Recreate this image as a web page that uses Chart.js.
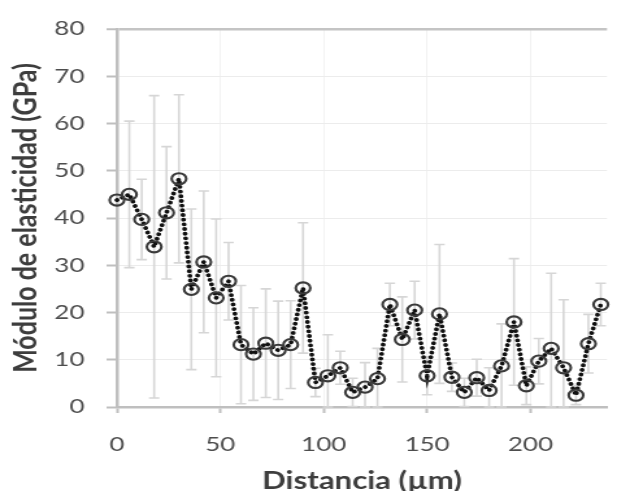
<!DOCTYPE html>
<html><head><meta charset="utf-8">
<script src="https://cdn.jsdelivr.net/npm/chart.js@4/dist/chart.umd.min.js"></script>
<style>
html,body{margin:0;padding:0;background:#fff;overflow:hidden;}
#wrap{width:475px;height:491px;transform:scaleX(1.29895);transform-origin:0 0;}
canvas{display:block;}
</style></head><body>
<div id="wrap"><canvas id="c" width="475" height="491"></canvas></div>
<script>
const distances = [0,6,12,18,24,30,36,42,48,54,60,66,72,78,84,90,96,102,108,114,120,126,132,138,144,150,156,162,168,174,180,186,192,198,204,210,216,222,228,234];
const modulus = [43.8,45.0,39.7,33.9,41.1,48.3,24.9,30.7,23.1,26.6,13.2,11.2,13.5,12.0,13.2,25.2,5.2,6.6,8.3,3.1,4.2,6.0,21.7,14.3,20.5,6.6,19.7,6.3,3.1,6.2,3.5,8.7,18.0,4.5,9.7,12.4,8.3,2.5,13.4,21.7];
const errors = [0,15.5,8.5,32,14,17.8,17,15,16.7,8.2,12.5,9.8,11.5,10.4,9.3,13.8,3,8.7,3.5,3,5.2,6.4,4.5,9,6.1,4,14.7,3,3,3.9,4.8,8.9,13.4,4,4.8,15.9,14.4,2,6.2,4.5];
const xTicks = [0,50,100,150,200];
const yTicks = [0,10,20,30,40,50,60,70,80];
const xTitle = 'Distancia (µm)';
const yTitle = 'Módulo de elasticidad (GPa)';

const errorBars = {
  id: 'errorBars',
  beforeDatasetsDraw(chart) {
    const {ctx, scales: {x, y}} = chart;
    ctx.save();
    ctx.strokeStyle = '#d6d6d6';
    ctx.lineWidth = 1.6;
    distances.forEach((d, i) => {
      const e = errors[i];
      if (!e) return;
      const px = x.getPixelForValue(d);
      const top = y.getPixelForValue(modulus[i] + e);
      const bot = y.getPixelForValue(Math.max(0, modulus[i] - e));
      ctx.beginPath();
      ctx.moveTo(px, top); ctx.lineTo(px, bot);
      ctx.moveTo(px - 4, top); ctx.lineTo(px + 4, top);
      ctx.moveTo(px - 4, bot); ctx.lineTo(px + 4, bot);
      ctx.stroke();
    });
    ctx.restore();
  }
};

new Chart(document.getElementById('c'), {
  type: 'line',
  data: {
    datasets: [{
      data: distances.map((d, i) => ({x: d, y: modulus[i]})),
      borderColor: '#111111',
      borderWidth: 3.8,
      borderDash: [0.1, 4.6],
      borderCapStyle: 'round',
      pointRadius: 5.6,
      pointBorderWidth: 2.1,
      pointBorderColor: '#3a3a3a',
      pointBackgroundColor: 'rgba(0,0,0,0)',
      tension: 0,
      clip: false
    }]
  },
  options: {
    responsive: false,
    animation: false,
    devicePixelRatio: 1,
    layout: {padding: {top: 20, right: 0, left: 0, bottom: 0}},
    plugins: {legend: {display: false}, tooltip: {enabled: false}},
    scales: {
      x: {
        type: 'linear', min: 0, max: 237,
        afterBuildTicks: s => { s.ticks = xTicks.map(v => ({value: v})); },
        afterFit: s => { s.height = 84; },
        ticks: {font: {family: 'Lato', size: 20}, color: '#4d4d4d', padding: 20, maxRotation: 0},
        grid: {color: '#f2f2f2', lineWidth: 1, tickLength: 6, tickColor: '#bfbfbf', tickWidth: 2},
        border: {color: '#bfbfbf', width: 2.5},
        title: {display: true, text: xTitle, font: {family: 'Lato', size: 24, weight: 'bold', lineHeight: 0.8}, color: '#3d3d3d', padding: {top: 0, bottom: 0}}
      },
      y: {
        type: 'linear', min: 0, max: 80,
        afterBuildTicks: s => { s.ticks = yTicks.map(v => ({value: v})); },
        afterFit: s => { s.width = 90; },
        ticks: {font: {family: 'Lato', size: 20}, color: '#4d4d4d', padding: 17},
        grid: {
          color: c => (c.tick && c.tick.value === 80) ? '#c4c4c4' : '#ececec',
          lineWidth: c => (c.tick && c.tick.value === 80) ? 2.5 : 1,
          tickLength: 8, tickColor: '#bfbfbf', tickWidth: 2
        },
        border: {color: '#bfbfbf', width: 2.5},
        title: {display: true, text: yTitle, font: {family: 'Lato', size: 25, weight: 'bold', lineHeight: 1.2}, color: '#3d3d3d', padding: {top: 5, bottom: 0}}
      }
    }
  },
  plugins: [errorBars]
});
</script>
</body></html>
